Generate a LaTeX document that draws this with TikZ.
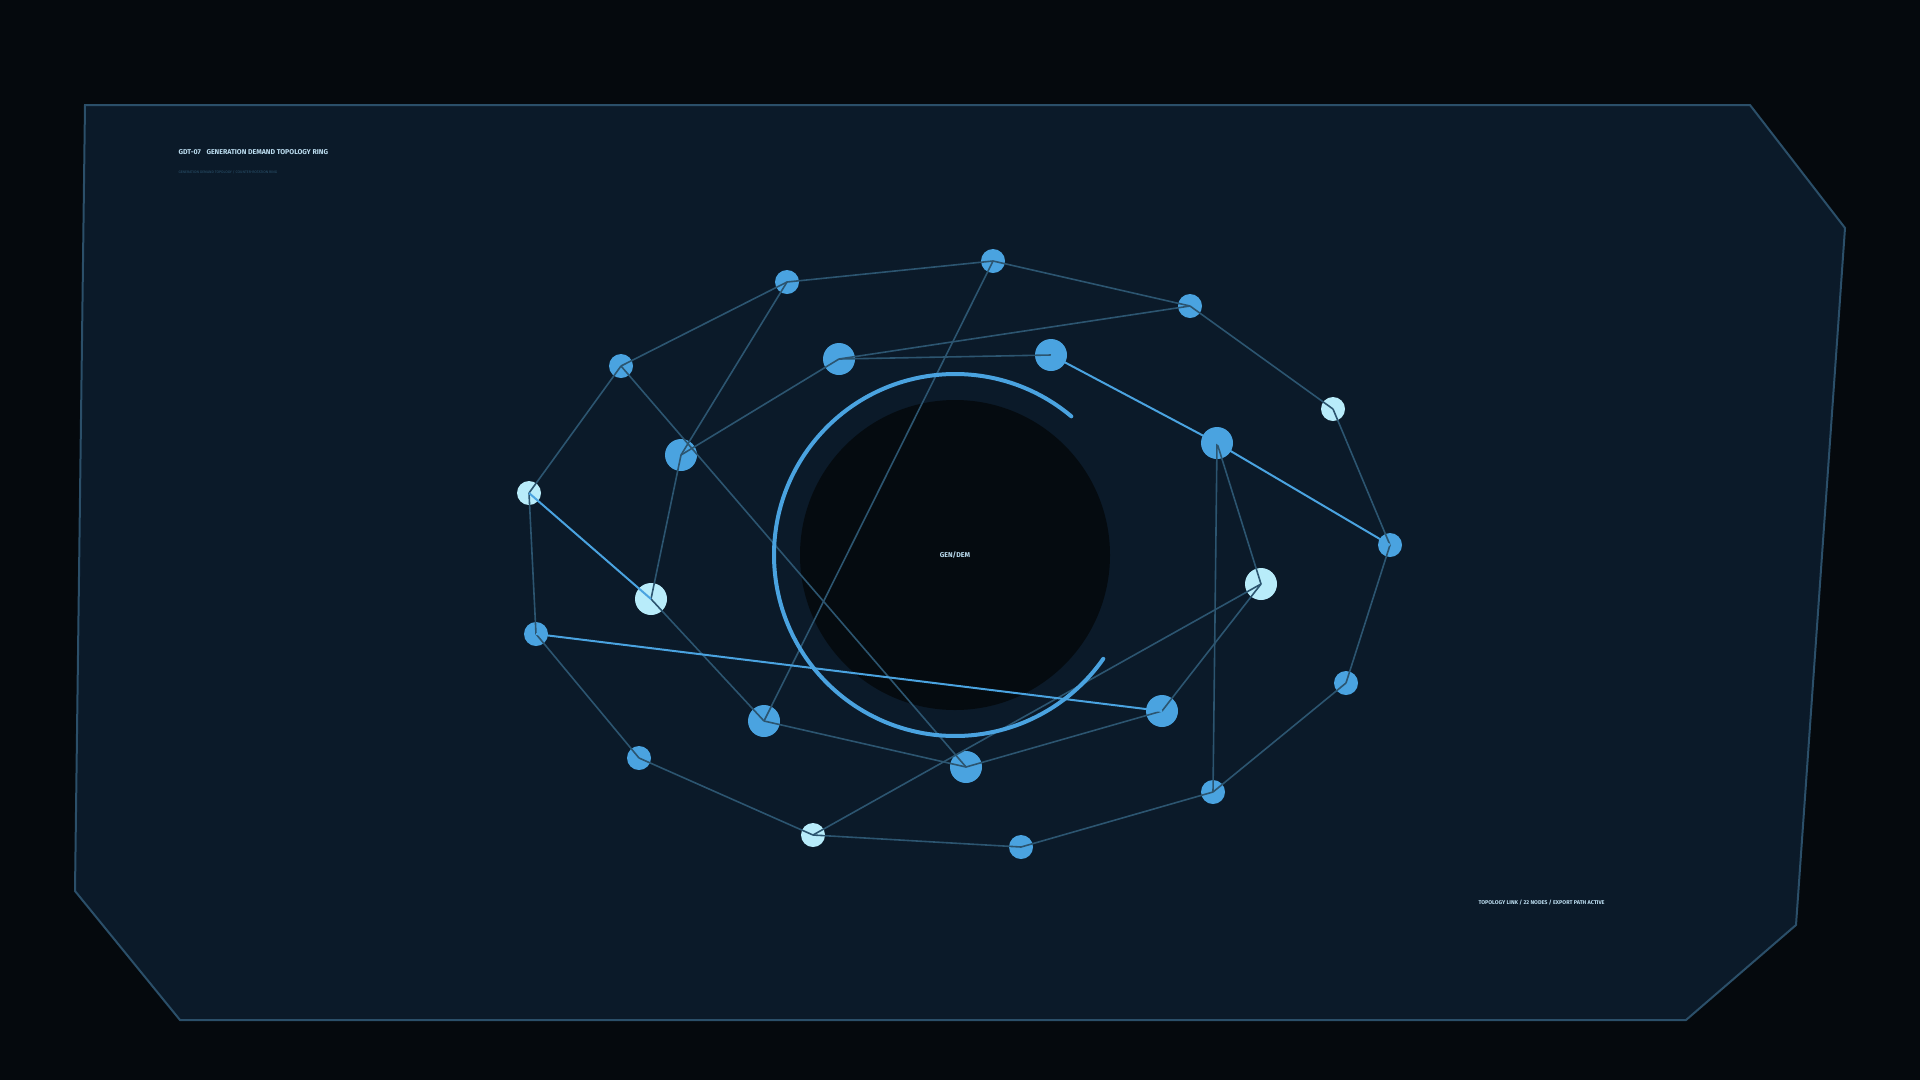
\documentclass[tikz,border=0pt]{standalone}
\usepackage{fontspec}
\setmainfont{Fira Sans}
\usepackage{tikz}

\definecolor{void}{HTML}{05090D}
\definecolor{panel}{HTML}{0B1A29}
\definecolor{rim}{HTML}{2B4F69}
\definecolor{core}{HTML}{050B10}
\definecolor{nodeblue}{HTML}{4AA3E0}
\definecolor{nodepale}{HTML}{B8ECFA}
\definecolor{linkdim}{HTML}{2C5570}
\definecolor{linkhot}{HTML}{4AA3E0}
\definecolor{label}{HTML}{BCDDF0}

\tikzset{
  hub/.style={circle, fill=nodeblue, inner sep=0pt, minimum size=24pt},
  hubbig/.style={hub, minimum size=32pt},
  pale/.style={fill=nodepale},
  link/.style={draw=linkdim, line width=1.6pt},
  hot/.style={draw=linkhot, line width=2pt},
}

\begin{document}
\begin{tikzpicture}[x=1pt, y=-1pt]
\useasboundingbox[fill=void] (0,0) rectangle (1920,1080);

% frame
\draw[rim, fill=panel, line width=2pt] (85,105) -- (1750,105) -- (1845,228) -- (1796,925)
  -- (1686,1020) -- (180,1020) -- (75,891) -- cycle;

% core
\fill[core] (955,555) circle (155);
\node (core) at (955,555) [text=label, font=\bfseries\fontsize{7}{8}\selectfont] {GEN/DEM};

% outer ring
\node (0) at (787,282) [hub] {};
\node (1) at (993,261) [hub] {};
\node (2) at (1190,306) [hub] {};
\node (3) at (1333,409) [hub, pale] {};
\node (4) at (1390,545) [hub] {};
\node (5) at (1346,683) [hub] {};
\node (6) at (1213,792) [hub] {};
\node (7) at (1021,847) [hub] {};
\node (8) at (813,835) [hub, pale] {};
\node (9) at (639,758) [hub] {};
\node (10) at (536,634) [hub] {};
\node (11) at (529,493) [hub, pale] {};
\node (12) at (621,366) [hub] {};

% inner ring
\node (13) at (839,359) [hubbig] {};
\node (14) at (1051,355) [hubbig] {};
\node (15) at (1217,443) [hubbig] {};
\node (16) at (1261,584) [hubbig, pale] {};
\node (17) at (1162,711) [hubbig] {};
\node (18) at (966,767) [hubbig] {};
\node (19) at (764,721) [hubbig] {};
\node (20) at (651,599) [hubbig, pale] {};
\node (21) at (681,455) [hubbig] {};

\foreach \a/\b in {0/1, 1/2, 2/3, 3/4, 4/5, 5/6, 6/7, 7/8, 8/9, 9/10, 10/11, 11/12, 12/0,
    13/14, 15/16, 16/17, 17/18, 18/19, 19/20, 20/21, 21/13,
    13/2, 0/21, 1/19, 12/18, 15/6, 8/16}
  \draw[link] (\a.center) to (\b.center);
\foreach \a/\b in {14/15, 11/20, 10/17, 15/4}
  \draw[hot] (\a.center) to (\b.center);

% sweep
\draw[linkhot, line width=4pt, line cap=round] (core.center) ++(-50:181) arc[start angle=-50, end angle=-325, radius=181];

% captions
\node (title) at (175,152) [anchor=west, text=label, font=\bfseries\fontsize{7}{8}\selectfont]
  {GDT-07\hspace{4pt} GENERATION DEMAND TOPOLOGY RING};
\node (sub) at (175,172) [anchor=west, text=linkdim, font=\fontsize{3.6}{4}\selectfont]
  {GENERATION DEMAND TOPOLOGY / COUNTER-ROTATION RING};
\node (foot) at (1475,903) [anchor=west, text=label, font=\bfseries\fontsize{5.5}{6}\selectfont]
  {TOPOLOGY LINK / 22 NODES / EXPORT PATH ACTIVE};
\end{tikzpicture}
\end{document}
